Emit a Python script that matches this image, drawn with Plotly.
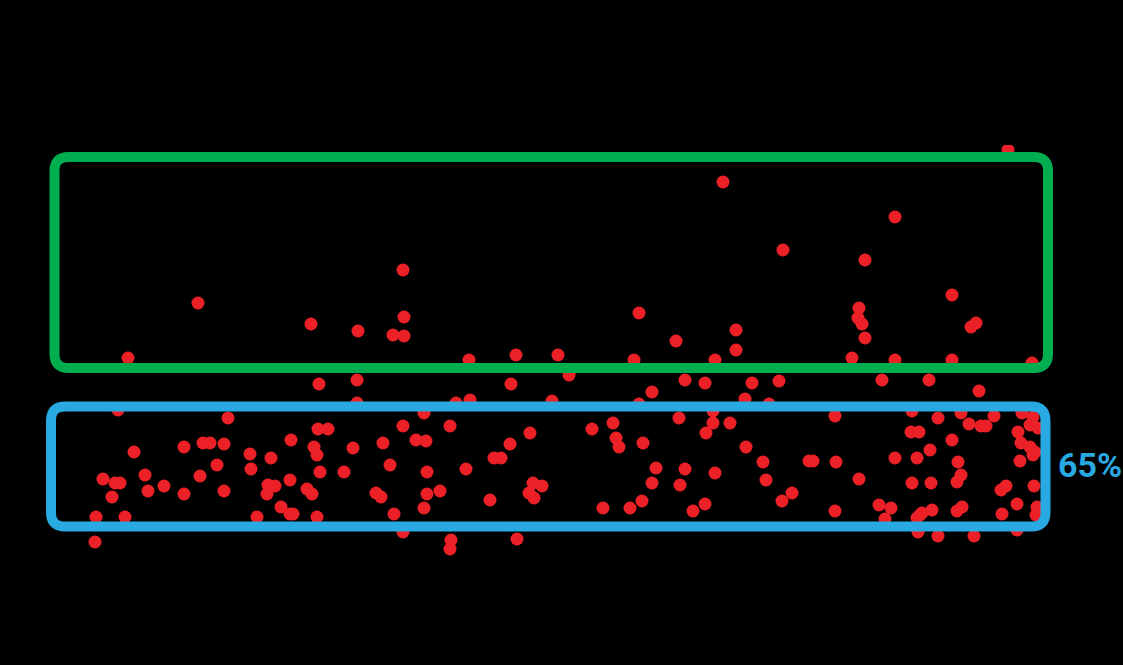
import plotly.graph_objects as go

x_vals = [198, 403, 311, 358, 404, 393, 404, 1008, 723, 895, 783, 865, 952, 639, 859,
          858, 862, 971, 976, 736, 676, 865, 736, 558, 128, 469, 516, 634, 715, 852,
          895, 952, 1032, 319, 357, 511, 569, 685, 705, 752, 779, 652, 882, 929, 979,
          118, 357, 456, 470, 552, 639, 745, 769, 713, 912, 228, 134, 184, 203, 210,
          224, 250, 271, 291, 103, 115, 120, 112, 145, 148, 164, 184, 200, 217, 224,
          251, 268, 275, 267, 290, 307, 312, 281, 290, 257, 96, 125, 95, 424, 318,
          328, 403, 450, 530, 314, 317, 353, 383, 416, 426, 510, 494, 501, 320, 344,
          390, 427, 466, 376, 381, 427, 440, 490, 533, 542, 529, 534, 293, 317, 394,
          424, 403, 451, 450, 517, 679, 592, 613, 713, 706, 730, 616, 619, 643, 746,
          763, 656, 685, 715, 652, 680, 766, 792, 782, 642, 603, 630, 693, 705, 835,
          938, 961, 969, 981, 986, 994, 1022, 1033, 1030, 1038, 911, 919, 952, 1018, 1021,
          1030, 1035, 1033, 809, 813, 836, 895, 917, 930, 958, 1020, 859, 912, 931, 961,
          957, 1001, 1006, 1034, 835, 879, 891, 885, 922, 920, 932, 957, 962, 1002, 1017,
          1037, 1036, 917, 918, 938, 974, 1017]
y_vals = [303, 270, 324, 331, 317, 335, 336, 150, 182, 217, 250, 260, 295, 313, 308,
          318, 324, 327, 323, 330, 341, 338, 350, 355, 358, 360, 355, 360, 360, 358,
          360, 360, 363, 384, 380, 384, 375, 380, 383, 383, 381, 392, 380, 380, 391,
          410, 403, 403, 400, 401, 404, 399, 404, 411, 411, 418, 452, 447, 443, 443,
          444, 454, 458, 440, 479, 483, 483, 497, 475, 491, 486, 494, 476, 465, 491,
          469, 485, 486, 494, 480, 489, 494, 507, 514, 517, 517, 517, 542, 413, 429,
          429, 426, 426, 433, 447, 455, 448, 443, 440, 441, 444, 458, 458, 472, 472,
          465, 472, 469, 493, 497, 494, 491, 500, 483, 486, 493, 498, 514, 517, 514,
          508, 532, 540, 549, 539, 418, 429, 423, 423, 433, 423, 438, 447, 443, 447,
          462, 468, 469, 473, 483, 485, 480, 493, 501, 501, 508, 508, 511, 504, 416,
          418, 413, 424, 426, 426, 416, 413, 417, 425, 428, 432, 432, 440, 432, 443,
          447, 452, 455, 461, 461, 462, 458, 458, 450, 462, 461, 479, 483, 483, 475,
          482, 490, 486, 486, 511, 505, 508, 519, 513, 515, 510, 511, 507, 514, 504,
          507, 515, 518, 532, 536, 536, 530]

label = "65%"

RED = "#ec2127"
GREEN = "#00ad4f"
BLUE = "#29a9e1"


def rounded_box(x0, y0, x1, y1, r):
    return (f"M {x0 + r},{y0} L {x1 - r},{y0} Q {x1},{y0} {x1},{y0 + r} "
            f"L {x1},{y1 - r} Q {x1},{y1} {x1 - r},{y1} L {x0 + r},{y1} "
            f"Q {x0},{y1} {x0},{y1 - r} L {x0},{y0 + r} Q {x0},{y0} {x0 + r},{y0} Z")


fig = go.Figure()

fig.add_trace(go.Scatter(
    x=x_vals,
    y=y_vals,
    mode='markers',
    marker=dict(color=RED, size=13, line=dict(width=0)),
    hoverinfo='skip',
    showlegend=False
))

fig.add_shape(type='path', path=rounded_box(54.5, 157, 1048, 368, 14),
              line=dict(color=GREEN, width=10), xref='x', yref='y', layer='above')
fig.add_shape(type='path', path=rounded_box(51, 406.5, 1045.5, 526.5, 14),
              line=dict(color=BLUE, width=10), xref='x', yref='y', layer='above')

fig.add_annotation(
    x=1090, y=465, xref='x', yref='y',
    text="<b>" + label + "</b>",
    showarrow=False,
    font=dict(family="Roboto, Liberation Sans, sans-serif", size=34, color=BLUE),
    xanchor='center', yanchor='middle'
)

fig.update_layout(
    width=1123,
    height=665,
    margin=dict(l=0, r=0, t=145, b=0),
    paper_bgcolor="black",
    plot_bgcolor="black",
    xaxis=dict(range=[0, 1123], visible=False, fixedrange=True),
    yaxis=dict(range=[665, 145], visible=False, fixedrange=True),
    showlegend=False
)

fig.write_html(
    "out.html",
    config={'displayModeBar': False},
    post_script="document.body.style.margin='0';document.body.style.background='black';"
                "document.body.style.overflow='hidden';"
)
